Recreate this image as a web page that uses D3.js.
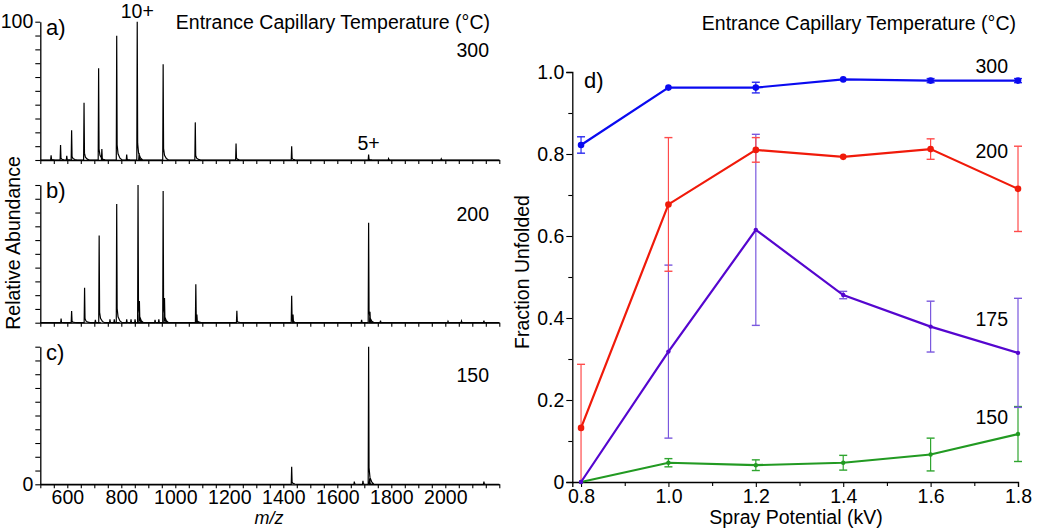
<!DOCTYPE html>
<html><head><meta charset="utf-8">
<script src="https://cdn.jsdelivr.net/npm/d3@7"></script>
<style>
body{margin:0;background:#fff;}
svg{display:block;font-family:"Liberation Sans",Arial,sans-serif;}
</style></head><body>
<svg id="c" width="1050" height="530"></svg>
<script>
// ---------- Mass spectra (m/z, relative abundance %) ----------
const peaksA_mz  = [540, 575, 598, 616, 662, 716, 728, 783, 820, 859, 866, 955, 1074, 1225, 1431, 1716, 1790, 1985];
const peaksA_int = [3.4, 10.8, 3, 21.5, 41.4, 66.3, 8, 89.9, 4, 100, 5, 69.2, 27.2, 12, 10, 4, 1, 0.8];
const peaksB_mz  = [577, 616, 664, 704, 718, 758, 774, 783, 820, 836, 851, 862, 867, 925, 939, 955, 960, 1076, 1080, 1228, 1431, 1436, 1690, 1716, 1721, 1760, 2010, 2060, 2143];
const peaksB_int = [3, 8.5, 25.4, 2, 63.4, 2.5, 2.5, 86.2, 2.5, 2.5, 2.5, 100, 15.7, 2, 2.5, 95.6, 18, 28, 6, 8.7, 19.6, 6, 2, 72.6, 8, 1.5, 1, 1.2, 1.5];
const peaksC_mz  = [1431, 1663, 1695, 1716, 1720, 2143];
const peaksC_int = [12.8, 2, 2.5, 100, 4.4, 2];
const spectraTemps = ["300", "200", "150"];
const panelLetters = ["a)", "b)", "c)"];
const mzTicks = [600, 800, 1000, 1200, 1400, 1600, 1800, 2000];

// ---------- Fraction unfolded vs spray potential ----------
const sprayKV = [0.8, 1.0, 1.2, 1.4, 1.6, 1.8];
const temps = ["300", "200", "175", "150"];
const frac300 = [0.822, 0.962, 0.962, 0.982, 0.979, 0.979];
const err300  = [0.020, 0.000, 0.013, 0.000, 0.005, 0.005];
const frac200 = [0.132, 0.677, 0.810, 0.793, 0.812, 0.715];
const err200  = [0.155, 0.163, 0.030, 0.000, 0.025, 0.104];
const frac175 = [0.000, 0.318, 0.615, 0.456, 0.379, 0.315];
const err175  = [0.000, 0.211, 0.233, 0.009, 0.062, 0.133];
const frac150 = [0.000, 0.047, 0.041, 0.047, 0.067, 0.117];
const err150  = [0.000, 0.010, 0.013, 0.018, 0.040, 0.067];
const fracTicks = [0, 0.2, 0.4, 0.6, 0.8, 1.0];
const kvTicks = [0.8, 1.0, 1.2, 1.4, 1.6, 1.8];

const svg = d3.select("#c");
const FS = 19.5;
const FF = '"Liberation Sans",Arial,sans-serif';

// ================= LEFT PANELS =================
const x = d3.scaleLinear().domain([500, 2200]).range([40.3, 499.3]);
const panels = [
  {mz: peaksA_mz, it: peaksA_int, top: 21.7, bot: 160},
  {mz: peaksB_mz, it: peaksB_int, top: 185, bot: 322.7},
  {mz: peaksC_mz, it: peaksC_int, top: 346.7, bot: 484.3}
];
const minorMz = d3.range(500, 2201, 50);
const minorPct = d3.range(0, 101, 10);

panels.forEach((p, i) => {
  const y = d3.scaleLinear().domain([0, 100]).range([p.bot, p.top]);
  const g = svg.append("g");
  const idx = d3.range(p.mz.length).sort((a, b) => p.mz[a] - p.mz[b]);
  const pts = [[500, 0]];
  idx.forEach(k => {
    const m = p.mz[k], h = p.it[k];
    pts.push([m - 1.6, 0], [m, h], [m + 1.6, h * 0.12], [m + 5, h * 0.05], [m + 12, h * 0.015], [m + 20, 0]);
  });
  pts.push([2200, 0]);
  g.append("path")
    .attr("d", d3.line().x(d => x(d[0])).y(d => y(d[1]))(pts))
    .attr("fill", "none").attr("stroke", "#000").attr("stroke-width", 1.2)
    .attr("stroke-linejoin", "miter");
  const xa = g.append("g").attr("transform", `translate(0,${p.bot})`)
    .call(d3.axisBottom(x).tickValues(minorMz).tickSize(4).tickSizeOuter(0)
      .tickFormat(d => (i === 2 && mzTicks.includes(d)) ? d : ""));
  const ya = g.append("g").attr("transform", `translate(40.3,0)`)
    .call(d3.axisLeft(y).tickValues(minorPct).tickSize(5).tickSizeOuter(0)
      .tickFormat(d => (i === 0 && d === 100) ? "100" : (i === 2 && d === 0) ? "0" : ""));
  [xa, ya].forEach(a => {
    a.select(".domain").attr("stroke", "#000").attr("stroke-width", 1.3);
    a.selectAll(".tick line").attr("stroke", "#000").attr("stroke-width", 1.1);
    a.selectAll("text").attr("fill", "#000").style("font-size", FS + "px").style("font-family", FF);
  });
  xa.selectAll("text").attr("dy", null).attr("y", 19.5);
  ya.selectAll("text").attr("x", -7);
  g.append("text").attr("x", 46).attr("y", p.top + 13).style("font-size", "22px").text(panelLetters[i]);
  g.append("text").attr("x", 489).attr("y", p.top + 35.5).attr("text-anchor", "end")
    .style("font-size", FS + "px").text(spectraTemps[i]);
  if (i === 0) {
    g.append("text").attr("x", x(859)).attr("y", 18).attr("text-anchor", "middle").style("font-size", FS + "px").text("10+");
    g.append("text").attr("x", x(1716)).attr("y", 150).attr("text-anchor", "middle").style("font-size", FS + "px").text("5+");
  }
});
svg.append("text").attr("x", 490).attr("y", 28.5).attr("text-anchor", "end")
  .style("font-size", FS + "px").text("Entrance Capillary Temperature (°C)");
svg.append("text").attr("x", 269).attr("y", 524).attr("text-anchor", "middle")
  .style("font-size", "18px").style("font-style", "italic").text("m/z");
svg.append("text").attr("transform", "translate(20,243) rotate(-90)").attr("text-anchor", "middle")
  .style("font-size", FS + "px").text("Relative Abundance");

// ================= RIGHT PANEL =================
const xr = d3.scaleLinear().domain([0.78, 1.8]).range([572.3, 1018]);
const yr = d3.scaleLinear().domain([0, 1]).range([482, 72]);
const gr = svg.append("g");
const xra = gr.append("g").attr("transform", `translate(0,482)`)
  .call(d3.axisBottom(xr).tickValues(d3.range(8, 19).map(v => v / 10)).tickSizeOuter(0)
    .tickSize(5).tickFormat(d => kvTicks.some(t => Math.abs(t - d) < 1e-6) ? d.toFixed(1) : ""));
xra.selectAll(".tick").filter(d => !kvTicks.some(t => Math.abs(t - d) < 1e-6)).select("line").attr("y2", 4);
const yra = gr.append("g").attr("transform", `translate(572.3,0)`)
  .call(d3.axisLeft(yr).tickValues(d3.range(0, 11).map(v => v / 10)).tickSizeOuter(0)
    .tickSize(6).tickFormat(d => fracTicks.some(t => Math.abs(t - d) < 1e-6) ? (d === 0 ? "0" : d.toFixed(1)) : ""));
yra.selectAll(".tick").filter(d => !fracTicks.some(t => Math.abs(t - d) < 1e-6)).select("line").attr("x2", -4);
[xra, yra].forEach(a => {
  a.select(".domain").attr("stroke", "#000").attr("stroke-width", 1.3);
  a.selectAll(".tick line").attr("stroke", "#000").attr("stroke-width", 1.1);
  a.selectAll("text").attr("fill", "#000").style("font-size", FS + "px").style("font-family", FF);
});
xra.selectAll("text").attr("dy", null).attr("y", 21);
yra.selectAll("text").attr("x", -8);

const series = [
  {t: "150", v: frac150, e: err150, c: "#229a22", ec: "#2fa52f", r: 2.2, lab: 424},
  {t: "175", v: frac175, e: err175, c: "#5506cf", ec: "#7a58de", r: 2.2, lab: 326},
  {t: "200", v: frac200, e: err200, c: "#f01a0a", ec: "#ff4b4b", r: 3.3, lab: 158},
  {t: "300", v: frac300, e: err300, c: "#0a0af0", ec: "#2b2bef", r: 3.3, lab: 73}
];
const cap = 4;
series.forEach(s => {
  const g = gr.append("g");
  sprayKV.forEach((kv, k) => {
    if (s.e[k] <= 0) return;
    const lo = Math.max(0, s.v[k] - s.e[k]), hi = s.v[k] + s.e[k];
    g.append("line").attr("x1", xr(kv)).attr("x2", xr(kv)).attr("y1", yr(lo)).attr("y2", yr(hi))
      .attr("stroke", s.ec).attr("stroke-width", 1.2);
    [hi, lo].forEach(v => {
      if (v <= 0) return;
      g.append("line").attr("x1", xr(kv) - cap).attr("x2", xr(kv) + cap).attr("y1", yr(v)).attr("y2", yr(v))
        .attr("stroke", s.ec).attr("stroke-width", 1.4);
    });
  });
});
series.forEach(s => {
  const g = gr.append("g");
  g.append("path").datum(sprayKV.map((kv, k) => [kv, s.v[k]]))
    .attr("d", d3.line().x(d => xr(d[0])).y(d => yr(d[1])))
    .attr("fill", "none").attr("stroke", s.c).attr("stroke-width", 2.2);
  g.selectAll("circle").data(sprayKV.map((kv, k) => [kv, s.v[k]])).join("circle")
    .attr("cx", d => xr(d[0])).attr("cy", d => yr(d[1])).attr("r", s.r).attr("fill", s.c);
  gr.append("text").attr("x", 1008).attr("y", s.lab).attr("text-anchor", "end")
    .style("font-size", FS + "px").text(s.t);
});
gr.append("text").attr("x", 584).attr("y", 88).style("font-size", "22px").text("d)");
gr.append("text").attr("x", 1016).attr("y", 30).attr("text-anchor", "end")
  .style("font-size", FS + "px").text("Entrance Capillary Temperature (°C)");
gr.append("text").attr("x", 796).attr("y", 524).attr("text-anchor", "middle")
  .style("font-size", FS + "px").text("Spray Potential (kV)");
gr.append("text").attr("transform", "translate(529,272) rotate(-90)").attr("text-anchor", "middle")
  .style("font-size", FS + "px").text("Fraction Unfolded");
</script></body></html>
